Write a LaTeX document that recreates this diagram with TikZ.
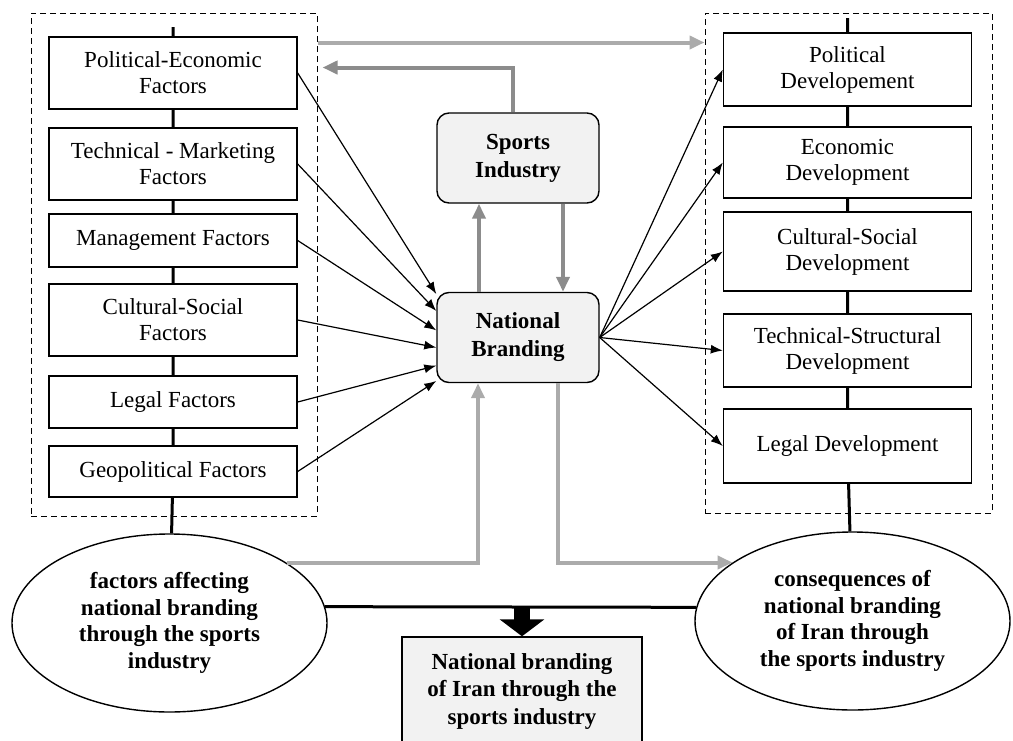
\documentclass[tikz,border=0pt]{standalone}
\usepackage{fontspec}
\setmainfont{Liberation Serif}
\usetikzlibrary{shapes.geometric,arrows.meta}
\definecolor{lgray}{HTML}{ABABAB}
\definecolor{dgray}{HTML}{8C8C8C}
\definecolor{boxfill}{HTML}{F2F2F2}

\begin{document}
\begin{tikzpicture}[x=0.5pt,y=-0.5pt,
    chain/.style={line width=1.5pt},
    lgarrow/.style={lgray, line width=2pt, -{Triangle[length=7.5pt,width=6.5pt]}},
    dgarrow/.style={dgray, line width=2pt, -{Triangle[length=7.5pt,width=6.5pt]}}]

      \useasboundingbox (0,0) rectangle (1013,740);

      \begin{scope}[every node/.style={draw, dash pattern=on 3pt off 2pt, line width=0.5pt, inner sep=0pt}]
        \node[minimum width=143pt, minimum height=251.5pt] (lgrp) at (174,264.5) {};
        \node[minimum width=143.5pt, minimum height=250pt] (rgrp) at (848.5,263) {};
      \end{scope}

      \begin{scope}[every node/.style={draw, fill=white, line width=0.7pt, minimum width=124pt, inner sep=0pt, align=center, font=\fontsize{11.5}{13}\selectfont}]
        \node[minimum height=36pt]   (f1) at (173,73)    {Political-Economic\\Factors};
        \node[minimum height=36pt]   (f2) at (173,164)   {Technical - Marketing\\Factors};
        \node[minimum height=26.5pt] (f3) at (173,240.5) {Management Factors};
        \node[minimum height=36pt]   (f4) at (173,320)   {Cultural-Social\\Factors};
        \node[minimum height=26pt]   (f5) at (173,402)   {Legal Factors};
        \node[minimum height=25.5pt] (f6) at (173,471.5) {Geopolitical Factors};
        \node[minimum height=36.5pt] (d1) at (847.5,69.5)  {Political\\Developement};
        \node[minimum height=35.5pt] (d2) at (847.5,162.5) {Economic\\Development};
        \node[minimum height=39.5pt] (d3) at (847.5,251.5) {Cultural-Social\\Development};
        \node[minimum height=36.5pt] (d4) at (847.5,350.5) {Technical-Structural\\Development};
        \node[minimum height=37pt]   (d5) at (847.5,446)   {Legal Development};
      \end{scope}

      \begin{scope}[every node/.style={draw, rounded corners=6pt, fill=boxfill, line width=0.7pt, minimum width=81pt, minimum height=45pt, align=center, font=\fontsize{11.5}{14}\selectfont\bfseries}]
        \node (si) at (518,158)   {Sports\\Industry};
        \node (nb) at (518,337.5) {National\\Branding};
      \end{scope}

      \begin{scope}[every node/.style={ellipse, draw, fill=white, line width=0.7pt, minimum width=157.5pt, minimum height=89pt, inner sep=0pt, align=center, font=\fontsize{11.5}{13.25}\selectfont\bfseries}]
        \node (lell) at (169.5,623) {factors affecting\\national branding\\through the sports\\industry};
        \node (rell) at (852.5,621) {consequences of\\national branding\\of Iran through\\the sports industry};
      \end{scope}

      \node[draw, fill=boxfill, line width=0.7pt, minimum width=120pt, minimum height=54pt, inner sep=0pt, align=center, font=\fontsize{11.5}{13.75}\selectfont\bfseries] (brand) at (522,691) {National branding\\of Iran through the\\sports industry};

      \coordinate (ltop) at (173,27);
      \coordinate (rtop) at (847.5,18);

      \draw[chain] (ltop) -- (f1) -- (f2) -- (f3) -- (f4) -- (f5) -- (f6) -- (lell);
      \draw[chain] (rtop) -- (d1) -- (d2) -- (d3) -- (d4) -- (d5) -- (rell);
      \draw[chain] (lell.6) -- (rell.175);
      \draw[line width=8pt, -{Triangle[length=8.5pt,width=22pt]}] (lell.6 -| brand.north) -- (brand.north);

      \begin{scope}[every edge/.style={draw, line width=0.6pt, -{Latex[length=6pt,width=4.5pt]}}]
        \path (f1.east) edge (nb.152);
        \path (f2.east) edge (nb.162);
        \path (f3.east) edge (nb.175);
        \path (f4.east) edge (nb.187);
        \path (f5.east) edge (nb.199);
        \path (f6.east) edge (nb.208);
        \path (nb.east) edge (d1.west);
        \path (nb.east) edge (d2.west);
        \path (nb.east) edge (d3.west);
        \path (nb.east) edge (d4.west);
        \path (nb.east) edge (d5.west);
      \end{scope}

      \draw[lgarrow] ([yshift=-15pt]lgrp.north east) -- ([yshift=-15pt]rgrp.north west);
      \draw[dgarrow] ([xshift=-2.5pt]si.north) |- ([xshift=2.5pt,yshift=-27.5pt]lgrp.north east);
      \draw[dgarrow] ([xshift=-19.5pt]nb.north) -- ([xshift=-19.5pt]si.south);
      \draw[dgarrow] ([xshift=22.5pt]si.south) -- ([xshift=22.5pt]nb.north);
      \draw[lgarrow] (lell.27) -| ([xshift=-20pt]nb.south);
      \draw[lgarrow] ([xshift=20pt]nb.south) |- (rell.154);

    \end{tikzpicture}
\end{document}
